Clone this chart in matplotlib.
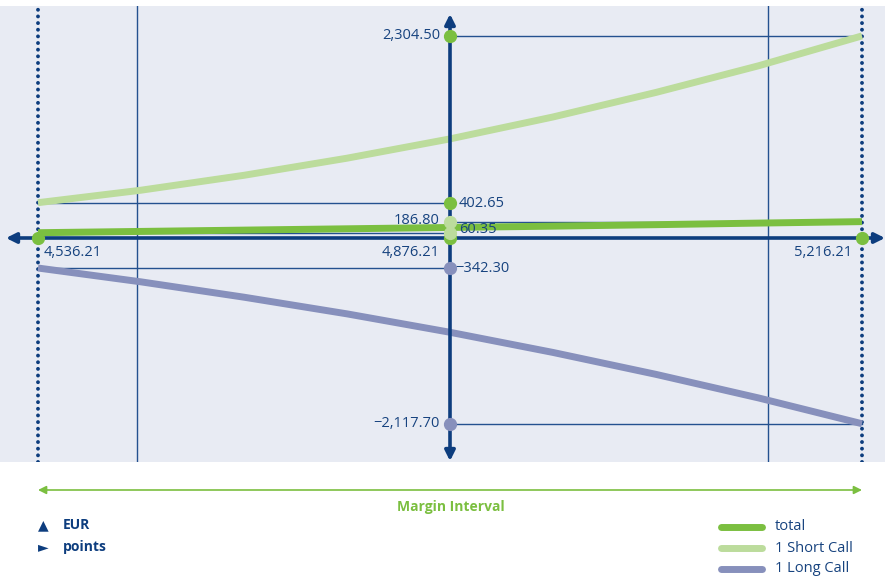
import matplotlib
matplotlib.use("Agg")
import matplotlib.pyplot as plt
from matplotlib.lines import Line2D
from matplotlib.patches import FancyArrowPatch

plt.rcParams['font.family'] = ['Open Sans', 'DejaVu Sans']

# index points (x)
points = [4536.21, 4621.21, 4706.21, 4791.21, 4876.21, 4961.21, 5046.21, 5131.21, 5216.21]
short_call = [402.65, 545, 715, 910, 1130, 1380, 1660, 1965, 2304.50]
long_call = [-342.30, -500, -675, -865, -1075, -1305, -1555, -1825, -2117.70]
total = [60.35, 75, 90, 105, 120, 135, 152, 170, 186.80]

x_left, x_mid, x_right = 4536.21, 4876.21, 5216.21
grid_x = [4618.0, 5138.5]

NAVY = '#0d3d7e'
TEXT = '#17437f'
GRID = '#24518f'
GREEN = '#7bbf40'
LIGHT_GREEN = '#bcdc9c'
PURPLE = '#8790bc'
BG = '#e8ebf3'

W, H = 885, 581
fig = plt.figure(figsize=(W / 100, H / 100), dpi=100)

# plot panel spans pixel rows 6..462
ax = fig.add_axes([0, 1 - 462 / H, 1, 456 / H])
ax.set_facecolor(BG)
for s in ax.spines.values():
    s.set_visible(False)
ax.set_xticks([])
ax.set_yticks([])

px_per_pt = 824 / 680.0
px_per_eur = 0.0877
ax.set_xlim(x_left - 38 / px_per_pt, x_left + (W - 38) / px_per_pt)
ax.set_ylim(-(462 - 238) / px_per_eur, (238 - 6) / px_per_eur)

# thin vertical grid lines
for gx in grid_x:
    ax.axvline(gx, color=GRID, lw=1.0, zorder=1)

# dotted interval borders
for bx in (x_left, x_right):
    ax.axvline(bx, color=NAVY, lw=2.8, linestyle=(0, (0.01, 1.7)),
               dash_capstyle='round', zorder=2)

# reference lines to the value labels
ax.plot([x_mid, x_right], [short_call[-1]] * 2, color=GRID, lw=1.0, zorder=1)
ax.plot([x_left, x_mid], [short_call[0]] * 2, color=GRID, lw=1.0, zorder=1)
ax.plot([x_mid, x_right], [total[-1]] * 2, color=GRID, lw=1.0, zorder=1)
ax.plot([x_left, x_mid], [total[0]] * 2, color=GRID, lw=1.0, zorder=1)
ax.plot([x_left, x_mid], [long_call[0]] * 2, color=GRID, lw=1.0, zorder=1)
ax.plot([x_mid, x_right], [long_call[-1]] * 2, color=GRID, lw=1.0, zorder=1)

# curves
ax.plot(points, short_call, color=LIGHT_GREEN, lw=5, solid_capstyle='butt',
        solid_joinstyle='round', zorder=3)
ax.plot(points, long_call, color=PURPLE, lw=5, solid_capstyle='butt',
        solid_joinstyle='round', zorder=3)
ax.plot(points, total, color=GREEN, lw=5, solid_capstyle='butt',
        solid_joinstyle='round', zorder=3)

# main axes with arrows
ax.annotate('', xy=(ax.get_xlim()[0] + 6 / px_per_pt, 0),
            xytext=(ax.get_xlim()[1], 0),
            arrowprops=dict(arrowstyle='<|-|>', color=NAVY, lw=2.6,
                            mutation_scale=15, shrinkA=0, shrinkB=0),
            zorder=4)
ax.annotate('', xy=(x_mid, (238 - 14) / px_per_eur),
            xytext=(x_mid, -(461 - 238) / px_per_eur),
            arrowprops=dict(arrowstyle='<|-|>', color=NAVY, lw=2.6,
                            mutation_scale=15, shrinkA=0, shrinkB=0),
            zorder=4)

# dots
ms = 8.5
ax.plot([x_left, x_mid, x_right], [0, 0, 0], 'o', color=GREEN, ms=ms, zorder=5)
ax.plot([x_mid, x_mid], [short_call[-1], short_call[0]], 'o', color=GREEN, ms=ms, zorder=5)
ax.plot([x_mid, x_mid], [total[-1], total[0]], 'o', color=LIGHT_GREEN, ms=ms, zorder=5)
ax.plot([x_mid, x_mid], [long_call[0], long_call[-1]], 'o', color=PURPLE, ms=ms, zorder=5)


def label(x, y, txt, dx, dy, ha):
    ax.annotate(txt, (x, y), xytext=(dx, dy), textcoords='offset pixels',
                ha=ha, va='center', fontsize=10.5, color=TEXT, zorder=6)


label(x_mid, short_call[-1], '2,304.50', -10, 0, 'right')
label(x_mid, short_call[0], '402.65', 9, -1, 'left')
label(x_mid, total[-1], '186.80', -10, 1, 'right')
label(x_mid, total[0], '60.35', 9, 3, 'left')
label(x_mid, 0, '4,876.21', -10, -14, 'right')
label(x_mid, long_call[0], '\u2212342.30', 5, 0, 'left')
label(x_mid, long_call[-1], '\u22122,117.70', -10, 0, 'right')
label(x_left, 0, '4,536.21', 6, -14, 'left')
label(x_right, 0, '5,216.21', -10, -14, 'right')


def fx(px):
    return px / W


def fy(py):
    return 1 - py / H


# margin interval arrow
fig.add_artist(FancyArrowPatch(
    (fx(38), fy(490)), (fx(862), fy(490)), transform=fig.transFigure,
    arrowstyle='<|-|>', color=GREEN, lw=1.2, mutation_scale=12,
    shrinkA=0, shrinkB=0))
fig.text(fx(451), fy(507), 'Margin Interval', ha='center', va='center',
         fontsize=10, color=GREEN, fontweight='bold')

# unit notes
fig.text(fx(38), fy(525), '\u25b2', ha='left', va='center', fontsize=10,
         color=NAVY, family='DejaVu Sans')
fig.text(fx(63), fy(525), 'EUR', ha='left', va='center', fontsize=10,
         color=NAVY, fontweight='bold')
fig.text(fx(38), fy(547), '\u25ba', ha='left', va='center', fontsize=10,
         color=NAVY, family='DejaVu Sans')
fig.text(fx(63), fy(547), 'points', ha='left', va='center', fontsize=10,
         color=NAVY, fontweight='bold')

# legend
legend_items = [('total', GREEN), ('1 Short Call', LIGHT_GREEN), ('1 Long Call', PURPLE)]
for i, (name, col) in enumerate(legend_items):
    py = 527 + i * 21
    fig.add_artist(Line2D([fx(721), fx(762)], [fy(py), fy(py)], color=col,
                          lw=5, solid_capstyle='round', transform=fig.transFigure))
    fig.text(fx(775), fy(py), name, ha='left', va='center', fontsize=10.5, color=TEXT)

fig.savefig('out.png', dpi=100, facecolor='white')
